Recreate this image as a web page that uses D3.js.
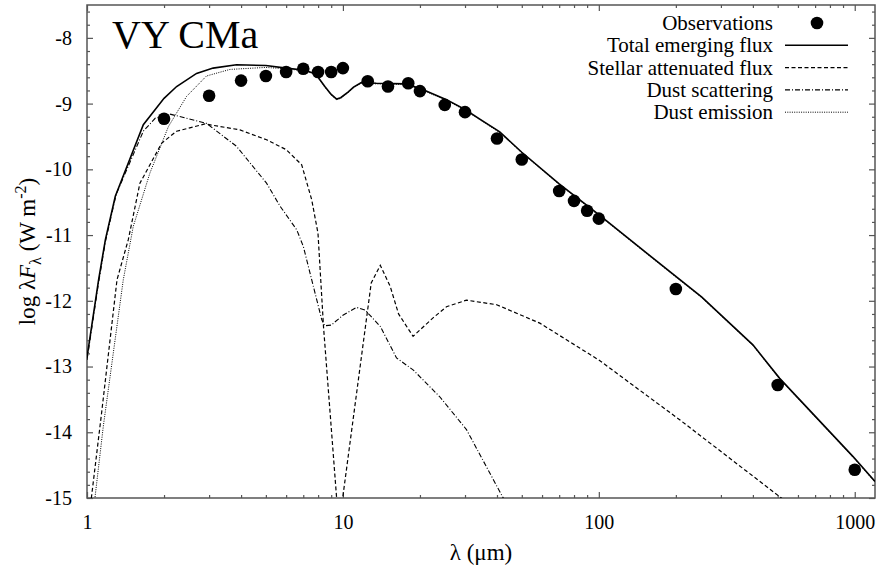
<!DOCTYPE html>
<html>
<head>
<meta charset="utf-8">
<script src="https://cdn.jsdelivr.net/npm/d3@7"></script>
<style>
  body { margin: 0; background: #fff; }
</style>
</head>
<body>
<div id="chart"></div>
<script>
// observed photometry (wavelength in micron, log lambda*F_lambda in W m^-2)
const obsWave = [2, 3, 4, 5, 6, 7, 8, 9, 10, 12.5, 15, 18, 20, 25, 30, 40, 50, 70, 80, 90, 100, 200, 500, 1000];
const obsFlux = [-9.23, -8.88, -8.65, -8.58, -8.52, -8.47, -8.52, -8.52, -8.46, -8.66, -8.74, -8.69, -8.81, -9.02, -9.13, -9.53, -9.85, -10.33, -10.48, -10.63, -10.75, -11.82, -13.28, -14.57];

// model: total emerging flux
const totalWave = [1.0, 1.11, 1.18, 1.29, 1.66, 2.0, 2.24, 2.68, 3.11, 3.84, 5.0, 6.0, 7.0, 7.6, 8.0, 8.5, 9.0, 9.45, 9.8, 10.5, 11.0, 11.8, 13.5, 17.7, 20.6, 25.4, 30, 34.4, 41, 50, 70, 100, 200, 252, 400, 509, 985, 1200];
const totalFlux = [-12.86, -11.68, -11.07, -10.41, -9.32, -8.92, -8.74, -8.54, -8.46, -8.41, -8.42, -8.46, -8.49, -8.53, -8.6, -8.74, -8.86, -8.93, -8.91, -8.82, -8.75, -8.68, -8.69, -8.70, -8.79, -8.94, -9.09, -9.24, -9.43, -9.74, -10.22, -10.69, -11.63, -11.94, -12.67, -13.18, -14.37, -14.75];

// model: stellar attenuated flux
const stellarWave = [1.03, 1.04, 1.14, 1.31, 1.45, 1.61, 1.96, 2.24, 2.89, 3.96, 5.03, 6.0, 6.9, 7.55, 7.99, 8.4, 9.64, 12.9, 14.0, 15.3, 16.5, 18.8, 22.5, 25.4, 30.4, 39.9, 58.8, 100, 207, 509, 1000];
const stellarFlux = [-15.3, -15.0, -13.71, -11.68, -11.07, -10.21, -9.60, -9.42, -9.31, -9.40, -9.55, -9.70, -9.93, -10.46, -10.97, -12.4, -15.44, -11.73, -11.46, -11.78, -12.2, -12.54, -12.26, -12.09, -11.99, -12.06, -12.34, -12.9, -13.81, -14.98, -15.85];

// model: dust scattering
const scatWave = [1.0, 1.11, 1.18, 1.3, 1.66, 1.85, 2.11, 2.93, 3.84, 5.03, 5.68, 6.6, 7.0, 8.27, 8.5, 9.0, 10.0, 11.3, 12.2, 14.0, 16.2, 18.8, 23.9, 30.4, 42.3, 50];
const scatFlux = [-12.9, -11.72, -11.1, -10.38, -9.42, -9.22, -9.16, -9.30, -9.65, -10.21, -10.56, -10.92, -11.17, -12.29, -12.38, -12.37, -12.22, -12.10, -12.14, -12.39, -12.87, -13.05, -13.46, -13.96, -15.0, -15.3];

// model: dust emission
const emisWave = [1.06, 1.074, 1.158, 1.386, 1.516, 1.76, 2.08, 2.45, 2.93, 3.62, 4.46, 5.0, 6.0, 7.0, 7.6, 8.0, 8.5, 9.0, 9.45, 9.8, 10.5, 11.0, 11.8, 13.5, 17.7, 20.6, 25.4, 30, 34.4, 41, 50, 70, 100, 200, 252, 400, 509, 985, 1200];
const emisFlux = [-15.3, -15.0, -13.91, -11.68, -10.87, -10.06, -9.35, -8.89, -8.58, -8.48, -8.46, -8.45, -8.47, -8.50, -8.54, -8.61, -8.75, -8.87, -8.94, -8.92, -8.83, -8.76, -8.69, -8.70, -8.71, -8.80, -8.95, -9.10, -9.25, -9.44, -9.75, -10.23, -10.70, -11.64, -11.95, -12.68, -13.19, -14.38, -14.76];

const xTickLabels = [1, 10, 100, 1000];
const yTickLabels = [-8, -9, -10, -11, -12, -13, -14, -15];

const seriesNames = ["Observations", "Total emerging flux", "Stellar attenuated flux", "Dust scattering", "Dust emission"];

const width = 883;
const height = 575;
const plotLeft = 87, plotRight = 875, plotTop = 5, plotBottom = 498;
const font = "'Liberation Serif'";

const svg = d3.select("#chart")
    .append("svg")
    .attr("width", width)
    .attr("height", height)
    .attr("font-family", font);

const x = d3.scaleLog().domain([1, 1200]).range([plotLeft, plotRight]);
const y = d3.scaleLinear().domain([-15, -7.5]).range([plotBottom, plotTop]);

svg.append("clipPath").attr("id", "clip")
    .append("rect")
    .attr("x", plotLeft).attr("y", plotTop)
    .attr("width", plotRight - plotLeft).attr("height", plotBottom - plotTop);

// minor tick values
let xMinor = [];
[1, 10, 100, 1000].forEach(d => {
    for (let k = 2; k <= 9; k++) if (d * k <= 1200) xMinor.push(d * k);
});
const yMinor = d3.range(-15, -7.45, 0.2).filter(v => Math.abs(v - Math.round(v)) > 0.01);

const axisColor = "#555";

function styleAxis(g) {
    g.attr("font-family", font);
    g.select(".domain").remove();
    g.selectAll("line").attr("stroke", axisColor).attr("stroke-width", 1.2);
    g.selectAll("text")
        .attr("font-size", 20)
        .attr("font-family", font)
        .style("font-family", font)
        .attr("fill", "#000");
}

// bottom
svg.append("g").attr("transform", "translate(0," + plotBottom + ")")
    .call(d3.axisBottom(x).tickValues(xTickLabels).tickFormat(d3.format("d")).tickSize(-6).tickPadding(17))
    .call(styleAxis);
svg.append("g").attr("transform", "translate(0," + plotBottom + ")")
    .call(d3.axisBottom(x).tickValues(xMinor).tickFormat("").tickSize(-3))
    .call(styleAxis);
// top
svg.append("g").attr("transform", "translate(0," + plotTop + ")")
    .call(d3.axisTop(x).tickValues(xTickLabels).tickFormat("").tickSize(-6))
    .call(styleAxis);
svg.append("g").attr("transform", "translate(0," + plotTop + ")")
    .call(d3.axisTop(x).tickValues(xMinor).tickFormat("").tickSize(-3))
    .call(styleAxis);
// left
svg.append("g").attr("transform", "translate(" + plotLeft + ",0)")
    .call(d3.axisLeft(y).tickValues(yTickLabels).tickFormat(d => d).tickSize(-6).tickPadding(15))
    .call(styleAxis);
svg.append("g").attr("transform", "translate(" + plotLeft + ",0)")
    .call(d3.axisLeft(y).tickValues(yMinor).tickFormat("").tickSize(-3))
    .call(styleAxis);
// right
svg.append("g").attr("transform", "translate(" + plotRight + ",0)")
    .call(d3.axisRight(y).tickValues(yTickLabels).tickFormat("").tickSize(-6))
    .call(styleAxis);
svg.append("g").attr("transform", "translate(" + plotRight + ",0)")
    .call(d3.axisRight(y).tickValues(yMinor).tickFormat("").tickSize(-3))
    .call(styleAxis);

svg.append("rect")
    .attr("x", plotLeft).attr("y", plotTop)
    .attr("width", plotRight - plotLeft).attr("height", plotBottom - plotTop)
    .attr("fill", "none")
    .attr("stroke", axisColor)
    .attr("stroke-width", 1.5);

const line = d3.line()
    .x(d => x(d[0]))
    .y(d => y(d[1]));

const styles = [
    null,
    { width: 1.6, dash: null },
    { width: 1.2, dash: "4,2.5" },
    { width: 1.1, dash: "5,2,1,2" },
    { width: 1.0, dash: "1,1.3" }
];

const models = [
    null,
    d3.zip(totalWave, totalFlux),
    d3.zip(stellarWave, stellarFlux),
    d3.zip(scatWave, scatFlux),
    d3.zip(emisWave, emisFlux)
];

const plot = svg.append("g").attr("clip-path", "url(#clip)");

// draw thinner curves first so the total sits on top
[4, 3, 2, 1].forEach(i => {
    plot.append("path")
        .datum(models[i])
        .attr("d", line)
        .attr("fill", "none")
        .attr("stroke", "#000")
        .attr("stroke-width", styles[i].width)
        .attr("stroke-dasharray", styles[i].dash);
});

plot.selectAll(".obs")
    .data(d3.zip(obsWave, obsFlux))
    .enter()
    .append("circle")
    .attr("class", "obs")
    .attr("cx", d => x(d[0]))
    .attr("cy", d => y(d[1]))
    .attr("r", 6.3)
    .attr("fill", "#000");

// title
svg.append("text")
    .attr("x", 112).attr("y", 48)
    .attr("font-family", font)
    .attr("font-size", 40)
    .text("VY CMa");

// legend
const legend = svg.append("g");
seriesNames.forEach((name, i) => {
    const ly = 23 + i * 22.3;
    legend.append("text")
        .attr("x", 773).attr("y", ly)
        .attr("dy", "0.33em")
        .attr("text-anchor", "end")
        .attr("font-family", font)
        .attr("font-size", 21)
        .text(name);
    if (i === 0) {
        legend.append("circle").attr("cx", 817).attr("cy", ly).attr("r", 6.3).attr("fill", "#000");
    } else {
        legend.append("line")
            .attr("x1", 785).attr("x2", 848)
            .attr("y1", ly).attr("y2", ly)
            .attr("stroke", "#000")
            .attr("stroke-width", styles[i].width)
            .attr("stroke-dasharray", styles[i].dash);
    }
});

// axis titles
svg.append("text")
    .attr("x", (plotLeft + plotRight) / 2).attr("y", 560)
    .attr("text-anchor", "middle")
    .attr("font-family", font)
    .style("font-family", font)
    .attr("font-size", 23)
    .text("λ (μm)");

const ylab = svg.append("text")
    .attr("transform", "translate(35," + ((plotTop + plotBottom) / 2) + ") rotate(-90)")
    .attr("text-anchor", "middle")
    .attr("font-family", font)
    .style("font-family", font)
    .attr("font-size", 23);
ylab.append("tspan").text("log λ");
ylab.append("tspan").attr("font-style", "italic").text("F");
ylab.append("tspan").attr("dy", 6).attr("font-size", 16).text("λ");
ylab.append("tspan").attr("dy", -6).text(" (W m");
ylab.append("tspan").attr("dy", -9).attr("font-size", 16).text("-2");
ylab.append("tspan").attr("dy", 9).text(")");
</script>
</body>
</html>
